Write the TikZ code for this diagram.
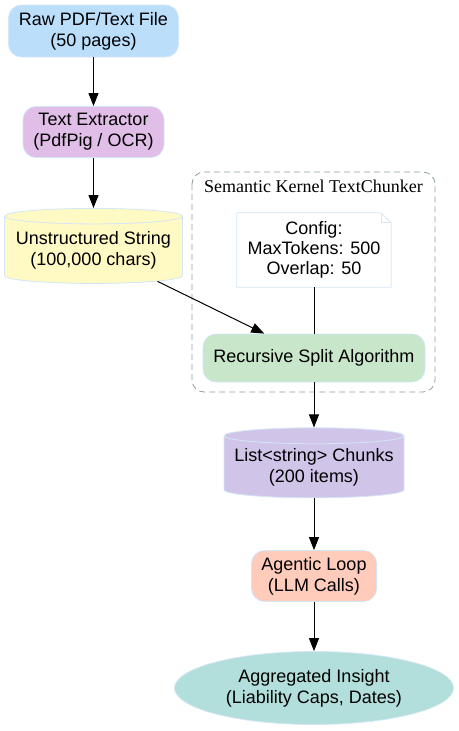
\documentclass[tikz,border=0pt]{standalone}
\usepackage{fontspec}
\setmainfont{Liberation Sans}
\newfontfamily\clusterserif{Liberation Serif}
\usepackage{tikz}
\usetikzlibrary{arrows.meta, shapes.geometric}
\definecolor{rim}{HTML}{D3E6F6}
\definecolor{rawblue}{HTML}{BBDEFB}
\definecolor{extpurple}{HTML}{E1BEE7}
\definecolor{stryellow}{HTML}{FFF9C4}
\definecolor{splitgreen}{HTML}{C8E6C9}
\definecolor{listlilac}{HTML}{D1C4E9}
\definecolor{loopsalmon}{HTML}{FFCCBC}
\definecolor{aggteal}{HTML}{B2DFDB}
\definecolor{clustergray}{HTML}{8E9BA4}
\begin{document}
\begin{tikzpicture}[x=1pt, y=-1pt,
  box/.style = {draw=rim, line width=0.8pt, rounded corners=13pt, align=center, inner sep=0pt, font=\fontsize{18}{21}\selectfont},
  drum/.style = {cylinder, shape border rotate=90, aspect=0.1, draw=rim, line width=0.8pt, align=center, inner sep=0pt, font=\fontsize{18}{21}\selectfont},
  flow/.style = {line width=1pt, -{Triangle[length=13pt, width=10pt]}}]
  \useasboundingbox (0,0) rectangle (458,731);
  %left column
  \node[box, fill=rawblue, minimum width=170pt, minimum height=52pt] (raw) at (93.5,31) {Raw PDF/Text File\\(50 pages)};
  \node[box, fill=extpurple, minimum width=141pt, minimum height=51pt] (extractor) at (93.5,132) {Text Extractor\\(PdfPig / OCR)};
  \node[drum, fill=stryellow, minimum width=178pt, minimum height=75pt] (unstr) at (93.5,250) {Unstructured String\\(100,000 chars)};
  %chunker cluster
  \draw[clustergray, dash pattern=on 6pt off 4pt, line width=0.8pt, rounded corners=12pt] (192,172) rectangle (435,392);
  \node[font=\clusterserif\fontsize{18}{21}\selectfont] (chunkerlabel) at (313.5,186) {Semantic Kernel TextChunker};
  \node[align=center, inner sep=0pt, minimum width=154pt, minimum height=74pt, font=\fontsize{18}{20}\selectfont] (config) at (314,250) {Config:\\MaxTokens: 500\\Overlap: 50};
  \draw[rim, line width=0.8pt, fill=white] (config.north west) -- ([xshift=-10pt]config.north east) -- ([yshift=-10pt]config.north east) -- (config.south east) -- (config.south west) -- cycle;
  \draw[rim, line width=0.8pt] ([xshift=-10pt]config.north east) -- ([xshift=-10pt, yshift=-10pt]config.north east) -- ([yshift=-10pt]config.north east);
  \node[align=center, inner sep=0pt, font=\fontsize{18}{20}\selectfont] at (config) {Config:\\MaxTokens: 500\\Overlap: 50};
  \node[box, fill=splitgreen, minimum width=222pt, minimum height=48pt] (split) at (314,358) {Recursive Split Algorithm};
  %right column
  \node[drum, fill=listlilac, minimum width=180pt, minimum height=70pt] (chunks) at (314,467) {List<string> Chunks\\(200 items)};
  \node[box, fill=loopsalmon, minimum width=125pt, minimum height=51pt] (agentic) at (314,576) {Agentic Loop\\(LLM Calls)};
  \node[ellipse, draw=rim, line width=0.8pt, fill=aggteal, inner sep=0pt, minimum width=279pt, minimum height=73pt, align=center, font=\fontsize{18}{21}\selectfont] (insight) at (314,688) {Aggregated Insight\\(Liability Caps, Dates)};
  %edges
  \draw[flow] (raw) -- (extractor);
  \draw[flow] (extractor) -- (unstr);
  \draw[flow] (unstr) -- (split);
  \draw[line width=1pt] (config) -- (split);
  \draw[flow] (split) -- (chunks);
  \draw[flow] (chunks) -- (agentic);
  \draw[flow] (agentic) -- (insight);
\end{tikzpicture}
\end{document}
